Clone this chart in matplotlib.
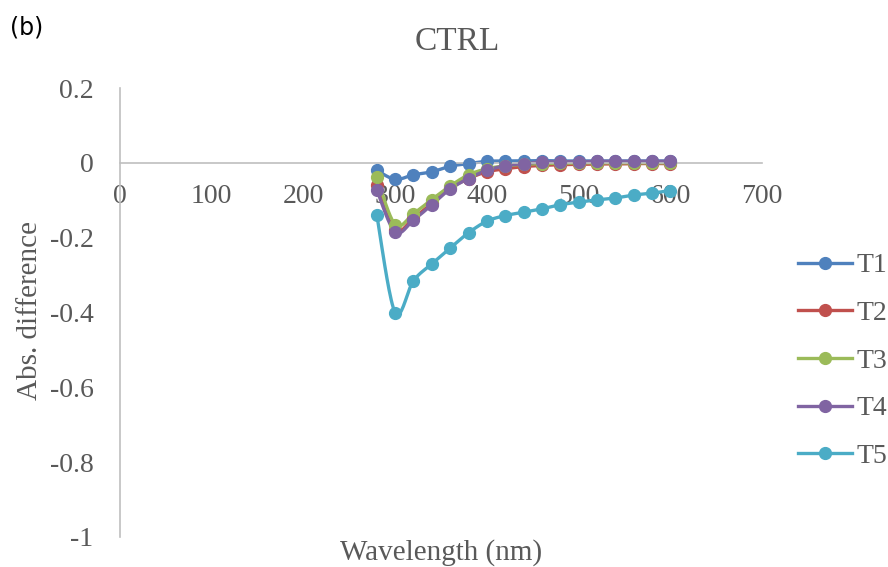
import matplotlib
matplotlib.use("Agg")
import matplotlib.pyplot as plt
from matplotlib.lines import Line2D
import numpy as np

# wavelength (nm) and absorbance difference for each treatment
wl = [280, 300, 320, 340, 360, 380, 400, 420, 440, 460, 480, 500, 520, 540, 560, 580, 600]
T1 = [-0.020, -0.044, -0.032, -0.024, -0.009, -0.002, 0.004, 0.005, 0.005, 0.006, 0.005,
      0.005, 0.005, 0.005, 0.005, 0.005, 0.005]
T2 = [-0.060, -0.180, -0.148, -0.108, -0.068, -0.042, -0.024, -0.016, -0.010, -0.007, -0.005,
      -0.004, -0.003, -0.003, -0.002, -0.002, -0.002]
T3 = [-0.038, -0.165, -0.136, -0.098, -0.062, -0.032, -0.016, -0.008, -0.004, -0.002, -0.001,
      0.000, 0.000, 0.000, 0.000, 0.000, 0.000]
T4 = [-0.072, -0.185, -0.153, -0.112, -0.070, -0.042, -0.020, -0.008, -0.002, 0.002, 0.003,
      0.003, 0.004, 0.004, 0.004, 0.004, 0.004]
T5 = [-0.140, -0.400, -0.315, -0.270, -0.228, -0.187, -0.156, -0.141, -0.132, -0.123, -0.112,
      -0.105, -0.099, -0.094, -0.086, -0.081, -0.074]

series = {"T1": T1, "T2": T2, "T3": T3, "T4": T4, "T5": T5}
colors = {"T1": "#4F81BD", "T2": "#C0504D", "T3": "#9BBB59", "T4": "#8064A2", "T5": "#4BACC6"}


def smooth(x, y, n=20):
    # Catmull-Rom spline through the points, like spreadsheet "smoothed lines"
    x = np.asarray(x, float)
    y = np.asarray(y, float)
    px = np.concatenate([[x[0]], x, [x[-1]]])
    py = np.concatenate([[y[0]], y, [y[-1]]])
    xs, ys = [], []
    t = np.linspace(0, 1, n, endpoint=False)
    for i in range(1, len(px) - 2):
        p0, p1, p2, p3 = px[i - 1], px[i], px[i + 1], px[i + 2]
        q0, q1, q2, q3 = py[i - 1], py[i], py[i + 1], py[i + 2]
        c1x, c1y = p1 + (p2 - p0) / 6, q1 + (q2 - q0) / 6
        c2x, c2y = p2 - (p3 - p1) / 6, q2 - (q3 - q1) / 6
        b = [(1 - t) ** 3, 3 * (1 - t) ** 2 * t, 3 * (1 - t) * t ** 2, t ** 3]
        xs.append(b[0] * p1 + b[1] * c1x + b[2] * c2x + b[3] * p2)
        ys.append(b[0] * q1 + b[1] * c1y + b[2] * c2y + b[3] * q2)
    xs.append([x[-1]])
    ys.append([y[-1]])
    return np.concatenate(xs), np.concatenate(ys)


plt.rcParams["font.family"] = ["Liberation Serif", "DejaVu Serif"]
grey = "#595959"

fig = plt.figure(figsize=(8.88, 5.67), dpi=100)
ax = fig.add_axes([120 / 888, 1 - 537 / 567, 642 / 888, 449 / 567])

handles = []
for name, vals in series.items():
    c = colors[name]
    sx, sy = smooth(wl, vals)
    ax.plot(sx, sy, color=c, lw=2.4, solid_capstyle="round", zorder=2)
    ax.plot(wl, vals, "o", color=c, ms=8.5, zorder=3)
    handles.append(Line2D([], [], color=c, lw=2.4, marker="o", ms=8.5, label=name))

ax.set_xlim(0, 700)
ax.set_ylim(-1, 0.2)
ax.set_xticks(np.arange(0, 701, 100))
ax.set_yticks(np.arange(-1, 0.21, 0.2))
ax.set_yticklabels(["-1", "-0.8", "-0.6", "-0.4", "-0.2", "0", "0.2"])

for s in ["top", "right"]:
    ax.spines[s].set_visible(False)
ax.spines["bottom"].set_position(("data", 0))
for s in ["left", "bottom"]:
    ax.spines[s].set_color("#BFBFBF")
    ax.spines[s].set_linewidth(1.2)
ax.tick_params(length=0, labelsize=20, labelcolor=grey)
ax.tick_params(axis="x", pad=15)
ax.tick_params(axis="y", pad=19)

fig.text(457 / 888, 1 - 50 / 567, "CTRL", ha="center", va="baseline", fontsize=24, color=grey)
fig.text(441 / 888, 1 - 560 / 567, "Wavelength (nm)", ha="center", va="baseline", fontsize=21,
         color=grey)
fig.text(30 / 888, 1 - 311 / 567, "Abs. difference", ha="center", va="center", rotation=90,
         fontsize=21, color=grey)
fig.text(10 / 888, 1 - 27 / 567, "(b)", ha="left", va="center", fontsize=17, color="black",
         family="DejaVu Sans")

fig.legend(handles=handles, loc="center left", bbox_to_anchor=(787 / 888, 1 - 361 / 567),
           frameon=False, fontsize=20, labelcolor=grey, handlelength=1.95, handletextpad=0.15,
           labelspacing=0.8, borderaxespad=0)

fig.savefig("out.png", dpi=100)
